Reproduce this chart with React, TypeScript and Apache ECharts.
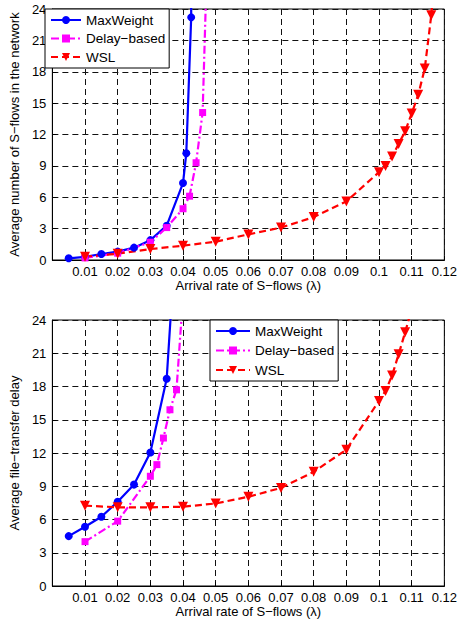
import React, { useEffect, useRef } from "react";
import * as echarts from "echarts";

const SERIES_NAMES = ["MaxWeight", "Delay−based", "WSL"];

// Top panel: average number of S-flows in the network
const topMaxWeightX = [0.005, 0.01, 0.015, 0.02, 0.025, 0.03, 0.035, 0.04, 0.041, 0.0425, 0.0425];
const topMaxWeightY = [0.16, 0.3, 0.57, 0.8, 1.18, 1.9, 3.28, 7.36, 10.2, 23.2, 30];
const topDelayX = [0.01, 0.02, 0.03, 0.035, 0.04, 0.042, 0.044, 0.046, 0.0472];
const topDelayY = [0.2, 0.65, 1.7, 3.1, 4.9, 6.1, 9.3, 14.1, 27];
const topWslX = [0.01, 0.02, 0.03, 0.04, 0.05, 0.06, 0.07, 0.08, 0.09, 0.1, 0.102, 0.104, 0.106, 0.108, 0.11, 0.112, 0.114, 0.116, 0.1167];
const topWslY = [0.32, 0.6, 1.05, 1.37, 1.75, 2.45, 3.1, 4.1, 5.6, 8.4, 9.0, 9.9, 11.1, 12.3, 14.0, 15.8, 18.3, 23.4, 26];

// Bottom panel: average file-transfer delay
const botMaxWeightX = [0.005, 0.01, 0.015, 0.02, 0.025, 0.03, 0.035, 0.0368];
const botMaxWeightY = [4.5, 5.35, 6.25, 7.6, 9.15, 12.05, 18.7, 27];
const botDelayX = [0.01, 0.02, 0.03, 0.032, 0.034, 0.036, 0.038, 0.0402];
const botDelayY = [4.0, 5.85, 9.9, 10.95, 13.35, 15.9, 17.7, 27];
const botWslX = [0.01, 0.02, 0.03, 0.04, 0.05, 0.06, 0.07, 0.08, 0.09, 0.1, 0.102, 0.104, 0.106, 0.108, 0.11];
const botWslY = [7.25, 7.1, 7.1, 7.15, 7.45, 8.05, 8.85, 10.3, 12.3, 16.7, 17.6, 19.0, 20.9, 22.9, 25];

const X_TITLE = "Arrival rate of S−flows (λ)";
const Y_TITLES = ["Average number of S−flows in the network", "Average file−transfer delay"];

const zip = (xs: number[], ys: number[]) => xs.map((x, i) => [x, ys[i]]);

const FONT = "'Liberation Sans', Arial, Helvetica, sans-serif";

export default function App() {
  const ref = useRef<HTMLDivElement>(null);
  useEffect(() => {
    if (!ref.current) return;
    const chart = echarts.init(ref.current, undefined, { renderer: "svg" });

    const styles = [
      { color: "#0000ff", symbol: "circle", symbolSize: 8, symbolRotate: 0, type: "solid" as any },
      { color: "#ff00ff", symbol: "rect", symbolSize: 7, symbolRotate: 0, type: [8, 3, 2, 3] },
      { color: "#ff0000", symbol: "triangle", symbolSize: 10, symbolRotate: 180, type: [7, 4] },
    ];
    const panels = [
      [zip(topMaxWeightX, topMaxWeightY), zip(topDelayX, topDelayY), zip(topWslX, topWslY)],
      [zip(botMaxWeightX, botMaxWeightY), zip(botDelayX, botDelayY), zip(botWslX, botWslY)],
    ];
    const series: any[] = [];
    panels.forEach((p, gi) => {
      p.forEach((data, si) => {
        const s = styles[si];
        series.push({
          type: "line",
          name: SERIES_NAMES[si],
          xAxisIndex: gi,
          yAxisIndex: gi,
          data,
          clip: true,
          symbol: s.symbol,
          symbolSize: s.symbolSize,
          symbolRotate: s.symbolRotate,
          showAllSymbol: true,
          itemStyle: { color: s.color },
          lineStyle: { color: s.color, width: 2.2, type: s.type },
        });
      });
    });

    const xFmt = (v: number) => (v === 0 ? "" : String(Number(v.toFixed(2))));
    const xAxis = [0, 1].map((i) => ({
      type: "value",
      gridIndex: i,
      min: 0,
      max: 0.12,
      interval: 0.01,
      name: X_TITLE,
      nameLocation: "middle",
      nameGap: i === 0 ? 19 : 16,
      nameTextStyle: { color: "#000", fontSize: 13, fontFamily: FONT },
      axisLine: { show: true, lineStyle: { color: "#000", width: 1 } },
      axisTick: { show: true, inside: true, length: 4, lineStyle: { color: "#000" } },
      axisLabel: { color: "#000", fontSize: 13, margin: 5, fontFamily: FONT, formatter: xFmt },
      splitLine: { show: true, lineStyle: { color: "#111", width: 1, type: [6, 4] } },
    }));
    const yAxis = [0, 1].map((i) => ({
      type: "value",
      gridIndex: i,
      min: 0,
      max: 24,
      interval: 3,
      name: Y_TITLES[i],
      nameLocation: "middle",
      nameGap: 24,
      nameTextStyle: { color: "#000", fontSize: 13, fontFamily: FONT },
      axisLine: { show: true, lineStyle: { color: "#000", width: 1 } },
      axisTick: { show: true, inside: true, length: 4, lineStyle: { color: "#000" } },
      axisLabel: { color: "#000", fontSize: 13, margin: 6, fontFamily: FONT },
      splitLine: { show: true, lineStyle: { color: "#111", width: 1, type: [6, 4] } },
    }));

    const legendBase = {
      orient: "vertical",
      data: SERIES_NAMES,
      backgroundColor: "#fff",
      borderColor: "#000",
      borderWidth: 1,
      borderRadius: 0,
      itemHeight: 10,
      selectedMode: false,
      textStyle: { fontSize: 13.5, color: "#000", fontFamily: FONT, lineHeight: 14 },
    };

    chart.setOption({
      animation: false,
      textStyle: { fontFamily: FONT },
      grid: [
        { left: 45, top: 9, width: 402, height: 251, show: true, borderColor: "#000", borderWidth: 1, backgroundColor: "transparent" },
        { left: 45, top: 320, width: 402, height: 266, show: true, borderColor: "#000", borderWidth: 1, backgroundColor: "transparent" },
      ],
      legend: [
        { ...legendBase, left: 45, top: 9, padding: [4, 4, 4, 5], itemWidth: 30, itemGap: 4.5 },
        { ...legendBase, left: 210, top: 320, padding: [4, 4, 4, 5], itemWidth: 34, itemGap: 5.5 },
      ],
      xAxis,
      yAxis,
      series,
    });
    return () => chart.dispose();
  }, []);
  return (
    <div
      ref={ref}
      style={{ position: "absolute", left: 0, top: 0, width: 460, height: 622, background: "#fff" }}
    />
  );
}
